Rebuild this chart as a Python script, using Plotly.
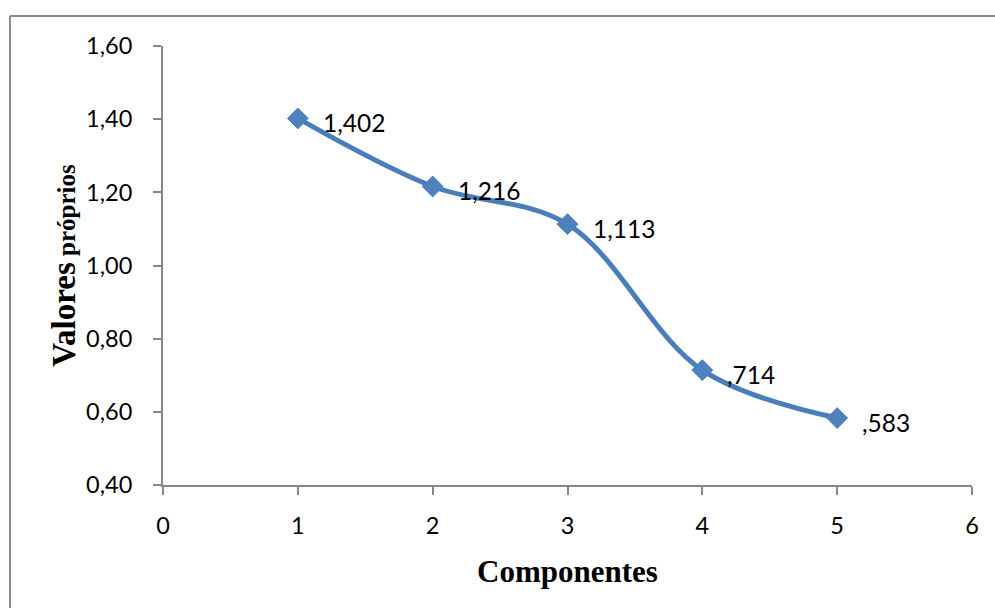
import plotly.graph_objects as go

# Eigenvalues per component (scree plot)
componentes = [1, 2, 3, 4, 5]
valores = [1.402, 1.216, 1.113, 0.714, 0.583]

x_ticks = [0, 1, 2, 3, 4, 5, 6]
y_ticks = [0.40, 0.60, 0.80, 1.00, 1.20, 1.40, 1.60]
y_tick_text = ["0,40", "0,60", "0,80", "1,00", "1,20", "1,40", "1,60"]


def fmt_valor(v):
    # SPSS-style label: decimal comma, no leading zero
    s = f"{v:.3f}".replace(".", ",")
    return s[1:] if s.startswith("0") else s


W, H = 995, 608
L, R, T, B = 163, 23, 46, 123
PW, PH = W - L - R, H - T - B


def px_x(p):
    return (p - L) / PW


def px_y(p):
    return (H - B - p) / PH


LINE = "#4a7ebb"
AXIS = "#868686"
TICK_FONT = dict(family="Lato, 'Open Sans', sans-serif", size=23.5, color="#000000")
LABEL_FONT = dict(family="Lato, 'Open Sans', sans-serif", size=24.5, color="#000000")

fig = go.Figure()
fig.add_trace(
    go.Scatter(
        x=componentes,
        y=valores,
        mode="lines+markers",
        line=dict(color=LINE, width=5, shape="spline", smoothing=1),
        marker=dict(symbol="diamond", size=16, color="#4f81bd",
                    line=dict(color=LINE, width=1)),
        hoverinfo="x+y",
        showlegend=False,
    )
)

for c, v in zip(componentes, valores):
    fig.add_annotation(
        x=c, y=v, text=fmt_valor(v), showarrow=False,
        xanchor="left", yanchor="middle", xshift=23, yshift=-4,
        font=LABEL_FONT,
    )

# Outer chart frame (runs past the right and bottom page edges)
fig.add_shape(type="line", xref="paper", yref="paper",
              x0=px_x(10), x1=px_x(1010), y0=px_y(16), y1=px_y(16),
              line=dict(color="#8c8c8c", width=2))
fig.add_shape(type="line", xref="paper", yref="paper",
              x0=px_x(10), x1=px_x(10), y0=px_y(16), y1=px_y(620),
              line=dict(color="#8c8c8c", width=2))

fig.update_layout(
    width=W, height=H,
    margin=dict(l=L, r=R, t=T, b=B, pad=0),
    paper_bgcolor="#ffffff",
    plot_bgcolor="#ffffff",
    xaxis=dict(
        range=[0, 6], tickvals=x_ticks, ticktext=[str(t) for t in x_ticks],
        showgrid=False, zeroline=False, showline=True,
        linecolor=AXIS, linewidth=2, ticks="outside", ticklen=8,
        tickcolor=AXIS, tickwidth=2, tickfont=TICK_FONT,
        ticklabelstandoff=11,
        title=dict(text="<b>Componentes</b>",
                   font=dict(family="'Liberation Serif', 'Times New Roman', serif",
                             size=31, color="#000000"),
                   standoff=22),
    ),
    yaxis=dict(
        range=[0.40, 1.60], tickvals=y_ticks, ticktext=y_tick_text,
        showgrid=False, zeroline=False, showline=True,
        linecolor=AXIS, linewidth=2, ticks="outside", ticklen=8,
        tickcolor=AXIS, tickwidth=2, tickfont=TICK_FONT,
        ticklabelstandoff=16,
        title=dict(text="<b><span style='font-size:33px'>Valores</span>"
                        "<span style='font-size:25px'> próprios</span></b>",
                   font=dict(family="'Liberation Serif', 'Times New Roman', serif",
                             size=33, color="#000000"),
                   standoff=1),
    ),
)

fig.write_html("out.html")
